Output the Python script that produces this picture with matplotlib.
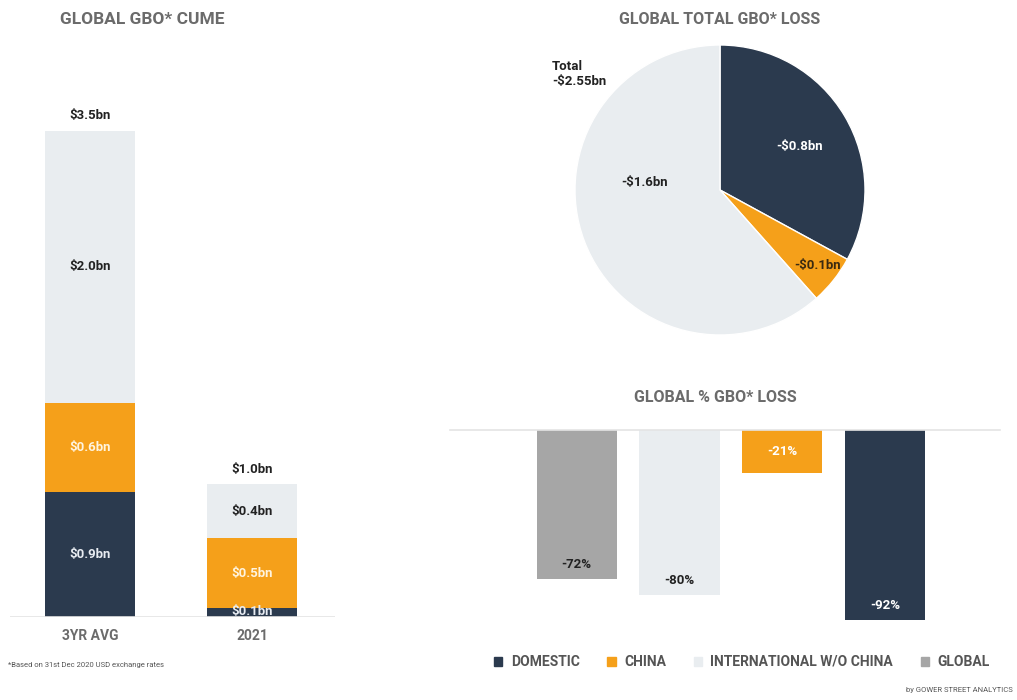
import numpy as np
import matplotlib
matplotlib.use("Agg")
import matplotlib.pyplot as plt
from matplotlib.patches import Patch

plt.rcParams['font.family'] = ['Roboto', 'DejaVu Sans']

# =========================
# DATA
# =========================
periods = ["3YR AVG", "2021"]
domestic_bn = [0.90, 0.065]
china_bn = [0.64, 0.50]
intl_bn = [1.96, 0.39]
totals_lbl = ["$3.5bn", "$1.0bn"]
domestic_lbl = ["$0.9bn", "$0.1bn"]
china_lbl = ["$0.6bn", "$0.5bn"]
intl_lbl = ["$2.0bn", "$0.4bn"]

loss_names = ["DOMESTIC", "CHINA", "INTERNATIONAL W/O CHINA"]
loss_bn = [0.84, 0.14, 1.57]
loss_lbl = ["-$0.8bn", "-$0.1bn", "-$1.6bn"]
loss_total_lbl = "Total\n-$2.55bn"

pct_names = ["GLOBAL", "INTERNATIONAL W/O CHINA", "CHINA", "DOMESTIC"]
pct_loss = [-72, -80, -21, -92]

# colours
NAVY = "#2b3a4e"
ORANGE = "#f5a01a"
LIGHT = "#e9edf0"
GREY = "#a6a6a6"
TITLE_C = "#6b6b6b"

W, H = 1017, 700
fig = plt.figure(figsize=(W / 100, H / 100), dpi=100)
fig.patch.set_facecolor("white")

def fx(px):
    return px / W

def fy(py):
    return 1 - py / H

# =========================
# LEFT: GLOBAL GBO CUME
# =========================
ax1 = fig.add_axes([fx(10), fy(617), fx(325), 556 / H])
x = np.arange(len(periods))
bw = 0.556
dom = np.array(domestic_bn)
chi = np.array(china_bn)
itl = np.array(intl_bn)
ax1.bar(x, dom, bw, color=NAVY)
ax1.bar(x, chi, bw, bottom=dom, color=ORANGE)
ax1.bar(x, itl, bw, bottom=dom + chi, color=LIGHT)
ax1.set_xlim(-0.494, 1.512)
ax1.set_ylim(0, 4.0)
ax1.axhline(0, color="#e4e4e4", lw=1.2)
for s in ax1.spines.values():
    s.set_visible(False)
ax1.set_yticks([])
ax1.set_xticks(x)
ax1.set_xticklabels(periods, fontsize=10, color=TITLE_C, fontweight="bold")
ax1.tick_params(axis="x", length=0, pad=9)

for i in range(len(periods)):
    top = dom[i] + chi[i] + itl[i]
    ax1.text(x[i], top + 0.06, totals_lbl[i], ha="center", va="bottom",
             fontsize=9.5, fontweight="bold", color="#222222")
    ax1.text(x[i], dom[i] + chi[i] + itl[i] / 2, intl_lbl[i], ha="center",
             va="center", fontsize=9.5, fontweight="bold", color="#222222")
    ax1.text(x[i], dom[i] + chi[i] / 2, china_lbl[i], ha="center",
             va="center", fontsize=9.5, fontweight="bold", color="#fff4df")
    ax1.text(x[i], max(dom[i] / 2, 0.04), domestic_lbl[i], ha="center",
             va="center", fontsize=9.5, fontweight="bold", color="#e8ecf2")

fig.text(fx(60), fy(20), "GLOBAL GBO* CUME", ha="left", va="center",
         fontsize=12.5, fontweight="bold", color=TITLE_C)
fig.text(fx(8), fy(665), "*Based on 31st Dec 2020 USD exchange rates",
         ha="left", va="center", fontsize=5.5, color="#555555")

# =========================
# PIE: GLOBAL TOTAL GBO LOSS
# =========================
ax2 = fig.add_axes([fx(575), fy(335), fx(290), 290 / H])
wedges, _ = ax2.pie(loss_bn, colors=[NAVY, ORANGE, LIGHT], startangle=90,
                    counterclock=False, radius=1,
                    wedgeprops=dict(edgecolor="white", linewidth=1))
ax2.set_xlim(-1, 1)
ax2.set_ylim(-1, 1)
label_pos = [(0.55, 0.30), (0.67, -0.52), (-0.52, 0.05)]
label_col = ["white", "#3a2a10", "#222222"]
for (lx, ly), t, c in zip(label_pos, loss_lbl, label_col):
    ax2.text(lx, ly, t, ha="center", va="center", fontsize=9.5,
             fontweight="bold", color=c)
fig.text(fx(552), fy(74), loss_total_lbl, ha="left", va="center",
         fontsize=9.5, fontweight="bold", color="#222222", linespacing=1.3)
fig.text(fx(720), fy(19), "GLOBAL TOTAL GBO* LOSS", ha="center", va="center",
         fontsize=11.5, fontweight="bold", color=TITLE_C)

# =========================
# BARS: GLOBAL % GBO LOSS
# =========================
ax3 = fig.add_axes([fx(450), fy(626), fx(550), 196 / H])
xp = np.arange(len(pct_names))
pct_cols = [GREY, LIGHT, ORANGE, NAVY]
pct_txt = ["#222222", "#222222", "white", "white"]
ax3.bar(xp, pct_loss, 0.78, color=pct_cols)
ax3.set_xlim(-1.233, 4.117)
ax3.set_ylim(-95, 0)
ax3.axhline(0, color="#e4e4e4", lw=1.2, clip_on=False)
for s in ax3.spines.values():
    s.set_visible(False)
ax3.set_xticks([])
ax3.set_yticks([])
for i, v in enumerate(pct_loss):
    ypos = v / 2 if v > -30 else v + 7
    ax3.text(xp[i], ypos, f"{v}%", ha="center", va="center", fontsize=9.5,
             fontweight="bold", color=pct_txt[i])
fig.text(fx(715), fy(397), "GLOBAL % GBO* LOSS", ha="center", va="center",
         fontsize=11.5, fontweight="bold", color=TITLE_C)

# legend
handles = [Patch(color=NAVY), Patch(color=ORANGE), Patch(color=LIGHT),
           Patch(color=GREY)]
labels = ["DOMESTIC", "CHINA", "INTERNATIONAL W/O CHINA", "GLOBAL"]
leg = fig.legend(handles, labels, loc="center", ncol=4, frameon=False,
                 bbox_to_anchor=(fx(742), fy(662)), handlelength=0.6,
                 handleheight=0.6, handletextpad=0.6, columnspacing=2.0,
                 prop=dict(size=10, weight="bold"))
for t in leg.get_texts():
    t.set_color("#555555")

fig.text(fx(1013), fy(690), "by GOWER STREET ANALYTICS", ha="right",
         va="center", fontsize=5.5, color="#555555")

fig.savefig("out.png", dpi=100, facecolor="white")
